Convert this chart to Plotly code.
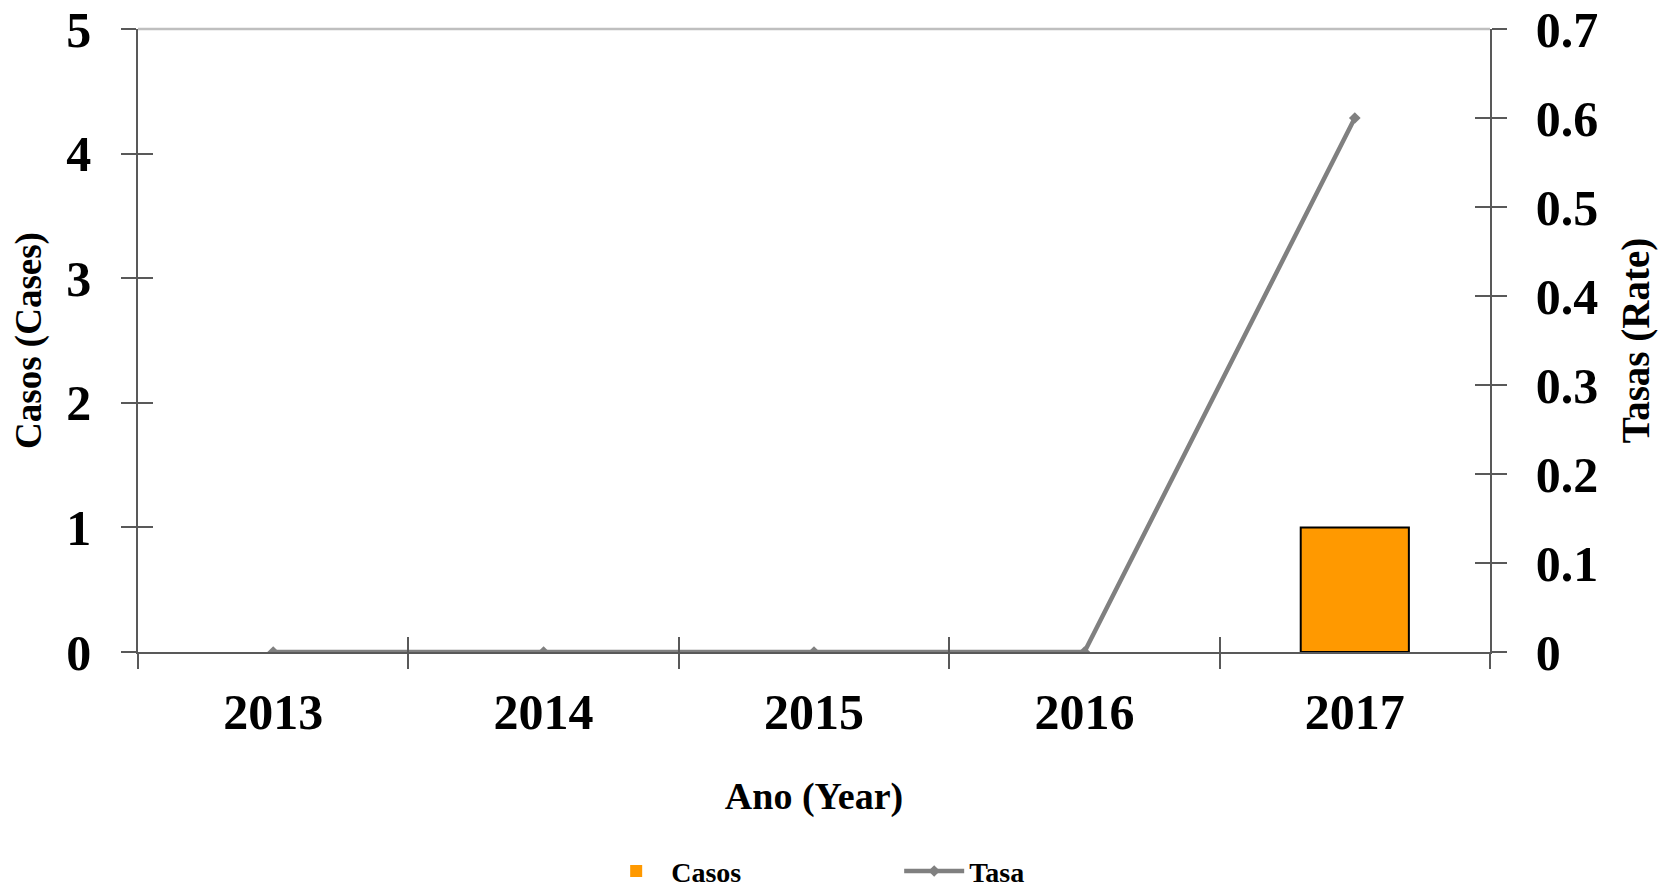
import plotly.graph_objects as go

years = ["2013", "2014", "2015", "2016", "2017"]
casos = [0, 0, 0, 0, 1]
tasa = [0, 0, 0, 0, 0.6]
left_ticks = [0, 1, 2, 3, 4, 5]
right_ticks = [0, 0.1, 0.2, 0.3, 0.4, 0.5, 0.6, 0.7]

FONT = "Liberation Serif"
AX = "#595959"

fig = go.Figure()
fig.add_trace(go.Bar(
    x=years, y=casos, name="<b>Casos</b>", width=0.4,
    marker=dict(color="#FF9900",
                line=dict(color="black", width=[2 if v else 0 for v in casos])),
    yaxis="y", xaxis="x",
))
fig.add_trace(go.Scatter(
    x=years, y=tasa, name="<b>Tasa</b>", mode="lines+markers",
    line=dict(color="#808080", width=4.5),
    marker=dict(symbol="diamond", size=9, color="#808080"),
    yaxis="y2", xaxis="x",
))

tickfont = dict(family=FONT, size=50, color="black", weight="bold")

# page body has an 8px default margin; figure placed to compensate
fig.update_layout(
    width=1663, height=881,
    paper_bgcolor="white", plot_bgcolor="white",
    margin=dict(l=130, r=181, t=21, b=237, autoexpand=False),
    font=dict(family=FONT, color="black"),
    barmode="overlay",
    xaxis=dict(
        type="category", range=[-0.5, 4.5], tickson="boundaries",
        ticks="outside", ticklen=15, tickwidth=1.5, tickcolor=AX,
        showline=True, linecolor=AX, linewidth=1.5, showgrid=False,
        tickfont=tickfont, ticklabelstandoff=15, automargin=False,
        ticklabeloverflow="allow",
        title=dict(text="<b>Ano (Year)</b>", font=dict(family=FONT, size=38, color="black"),
                   standoff=44),
    ),
    xaxis2=dict(
        type="category", range=[-0.5, 4.5], tickson="boundaries",
        overlaying="x", matches="x", side="bottom",
        ticks="inside", ticklen=15, tickwidth=1.5, tickcolor=AX,
        showticklabels=False, showline=False, showgrid=False, automargin=False,
    ),
    yaxis=dict(
        range=[0, 5], tickvals=left_ticks, ticks="outside", ticklen=15,
        tickwidth=1.5, tickcolor=AX, showline=True, linecolor=AX, linewidth=1.5,
        showgrid=False, zeroline=False, tickfont=tickfont, ticklabelstandoff=20,
        automargin=False, ticklabeloverflow="allow",
        title=dict(text="<b>Casos (Cases)</b>", font=dict(family=FONT, size=37, color="black"),
                   standoff=20),
    ),
    yaxis2=dict(
        range=[0, 0.7], tickvals=right_ticks, overlaying="y", side="right",
        ticks="outside", ticklen=15, tickwidth=1.5, tickcolor=AX,
        showline=True, linecolor=AX, linewidth=1.5, showgrid=False, zeroline=False,
        tickfont=tickfont, ticklabelstandoff=19, automargin=False,
        ticklabeloverflow="allow",
        title=dict(text="<b>Tasas (Rate)</b>", font=dict(family=FONT, size=39, color="black"),
                   standoff=24),
    ),
    yaxis3=dict(
        range=[0, 5], tickvals=left_ticks, overlaying="y", side="left",
        ticks="inside", ticklen=15, tickwidth=1.5, tickcolor=AX,
        showticklabels=False, showline=False, showgrid=False, zeroline=False,
        automargin=False,
    ),
    yaxis4=dict(
        range=[0, 0.7], tickvals=right_ticks, overlaying="y", side="right",
        ticks="inside", ticklen=15, tickwidth=1.5, tickcolor=AX,
        showticklabels=False, showline=False, showgrid=False, zeroline=False,
        automargin=False,
    ),
    legend=dict(
        orientation="h", x=0.563, xanchor="center", y=-0.352, yanchor="middle",
        font=dict(family=FONT, size=28, color="black"),
        itemwidth=60, entrywidth=223, traceorder="normal",
    ),
    shapes=[dict(type="line", xref="paper", yref="paper", x0=0, x1=1, y0=1, y1=1,
                 line=dict(color="#BFBFBF", width=2.5), layer="below")],
)

fig.add_trace(go.Scatter(x=years, y=casos, xaxis="x2", yaxis="y3", mode="none",
                         showlegend=False, hoverinfo="skip"))
fig.add_trace(go.Scatter(x=years, y=tasa, xaxis="x2", yaxis="y4", mode="none",
                         showlegend=False, hoverinfo="skip"))

fig.write_html("out.html")
